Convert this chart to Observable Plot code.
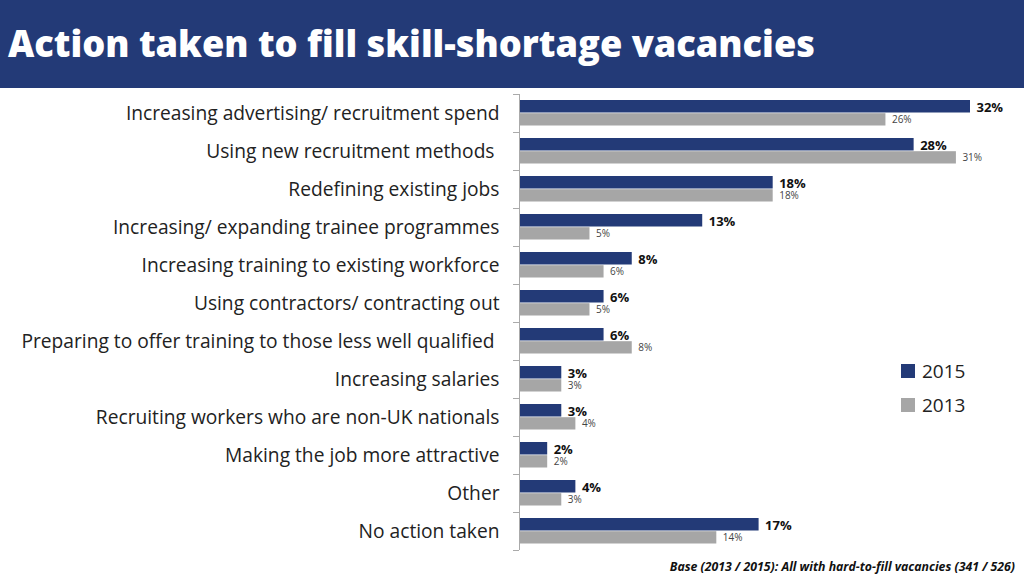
<!DOCTYPE html>
<html>
<head>
<meta charset="utf-8">
<script src="https://cdn.jsdelivr.net/npm/d3@7"></script>
<script src="https://cdn.jsdelivr.net/npm/@observablehq/plot@0.6"></script>
<style>
  html, body { margin: 0; padding: 0; background: #fff; }
  #page { position: relative; width: 1024px; height: 576px; overflow: hidden; font-family: "Open Sans", sans-serif; }
  #header { height: 88px; background: #233a77; color: #fff; position: relative; }
  #header h1 { margin: 0; position: absolute; left: 8px; top: 24px; font-size: 36.2px; font-weight: 800; letter-spacing: 0px; line-height: 1.1; }
  #legend { position: absolute; left: 901px; top: 354px; font-size: 19px; color: #222; }
  .li { display: flex; align-items: center; height: 34px; }
  .sw { width: 14px; height: 14px; margin-right: 7px; }
  #footer { position: absolute; right: 9px; top: 558px; font-size: 12.3px; font-weight: 700; font-style: italic; color: #111; }
</style>
</head>
<body>
<div id="page">
  <div id="header"><h1>Action taken to fill skill-shortage vacancies</h1></div>
  <div id="chart"></div>
  <div id="legend"></div>
  <div id="footer">Base (2013 / 2015): All with hard-to-fill vacancies (341 / 526)</div>
</div>
<script>
const categories = [
  "Increasing advertising/ recruitment spend",
  "Using new recruitment methods\u00a0",
  "Redefining existing jobs",
  "Increasing/ expanding trainee programmes",
  "Increasing training to existing workforce",
  "Using contractors/ contracting out",
  "Preparing to offer training to those less well qualified\u00a0",
  "Increasing salaries",
  "Recruiting workers who are non-UK nationals",
  "Making the job more attractive",
  "Other",
  "No action taken"
];
const values2015 = [32, 28, 18, 13, 8, 6, 6, 3, 3, 2, 4, 17];
const values2013 = [26, 31, 18, 5, 6, 5, 8, 3, 4, 2, 3, 14];
const seriesNames = ["2015", "2013"];
const colors = ["#233a77", "#a6a6a6"];

const d2015 = categories.map((c, i) => ({category: c, value: values2015[i]}));
const d2013 = categories.map((c, i) => ({category: c, value: values2013[i]}));

const chart = Plot.plot({
  width: 1024,
  height: 488,
  marginLeft: 519,
  marginRight: 54,
  marginTop: 6,
  marginBottom: 26,
  style: {fontFamily: "'Open Sans', sans-serif", color: "#222", background: "transparent"},
  x: {domain: [0, 32], axis: null},
  y: {domain: categories, padding: 0, axis: null},
  marks: [
    Plot.barX(d2015, {y: "category", x: "value", fill: colors[0], insetTop: 6, insetBottom: 19.5}),
    Plot.barX(d2013, {y: "category", x: "value", fill: colors[1], insetTop: 19.2, insetBottom: 6.5}),
    Plot.text(d2015, {y: "category", x: "value", text: d => d.value + "%", dx: 6, dy: -6, textAnchor: "start", fontSize: 13, fontWeight: "bold", fill: "#111"}),
    Plot.text(d2013, {y: "category", x: "value", text: d => d.value + "%", dx: 6, dy: 6.5, textAnchor: "start", fontSize: 10, fill: "#444"}),
    Plot.axisY({tickSize: 0, tickPadding: 20, fontSize: 19.2, label: null, fill: "#222"}),
    Plot.axisY({tickSize: 6, text: null, label: null, dy: -19, stroke: "#aaa"}),
    Plot.axisY({ticks: [categories[categories.length - 1]], tickSize: 6, text: null, label: null, dy: 19, stroke: "#aaa"}),
    Plot.ruleX([0], {stroke: "#aaa"})
  ]
});
document.getElementById("chart").appendChild(chart);

const legend = document.getElementById("legend");
seriesNames.forEach((s, i) => {
  const row = document.createElement("div");
  row.className = "li";
  const sw = document.createElement("div");
  sw.className = "sw";
  sw.style.background = colors[i];
  const t = document.createElement("span");
  t.textContent = s;
  row.appendChild(sw);
  row.appendChild(t);
  legend.appendChild(row);
});
</script>
</body>
</html>
